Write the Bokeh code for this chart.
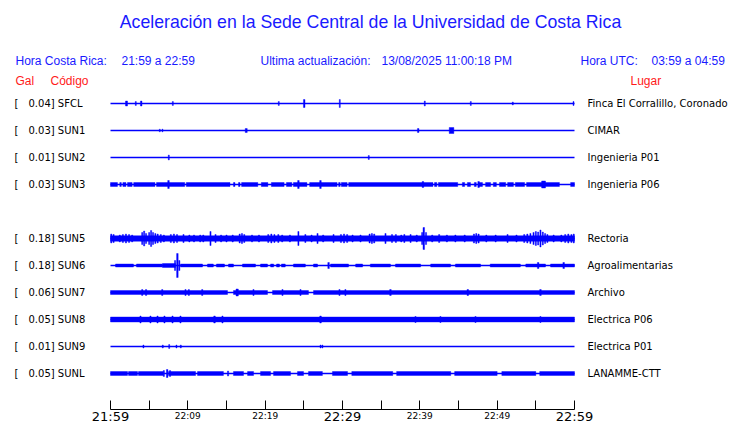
from bokeh.plotting import figure
from bokeh.models import Range1d, LinearAxis, FixedTicker, Label, ColumnDataSource
from bokeh.core.properties import value
from bokeh.embed import file_html
from bokeh.resources import INLINE

# ---------------- data ----------------
title_text = "Aceleración en la Sede Central de la Universidad de Costa Rica"
hora_cr = "21:59 a 22:59"
ultima = "13/08/2025 11:00:18 PM"
hora_utc = "03:59 a 04:59"

codes = ["SFCL", "SUN1", "SUN2", "SUN3", "SUN5", "SUN6", "SUN7", "SUN8", "SUN9", "SUNL"]
gals = ["0.04", "0.03", "0.01", "0.03", "0.18", "0.18", "0.06", "0.05", "0.01", "0.05"]
places = ["Finca El Corralillo, Coronado", "CIMAR", "Ingenieria P01", "Ingenieria P06",
          "Rectoria", "Agroalimentarias", "Archivo", "Electrica P06", "Electrica P01", "LANAMME-CTT"]
slots = [0, 1, 2, 3, 5, 6, 7, 8, 9, 10]

tick_minutes = [0, 5, 10, 15, 20, 25, 30, 35, 40, 45, 50, 55, 60]
big_tick_minutes = [0, 30, 60]
big_tick_labels = ["21:59", "22:29", "22:59"]
small_tick_minutes = [10, 20, 40, 50]
small_tick_labels = ["22:09", "22:19", "22:39", "22:49"]

# amplitudes: relative units, 27 = one row spacing
# bands: (start_min, end_min, half_amplitude); spikes: (minute, half_amplitude, duration_min)
SFCL_bands = []
SFCL_spikes = [(2.07, 2.5, 0.26), (3.27, 2.0, 0.13), (3.97, 2.5, 0.2), (8.06, 2.0, 0.13),
               (21.76, 2.0, 0.13), (25.05, 4.0, 0.2), (29.65, 4.0, 0.13), (40.64, 2.5, 0.13),
               (46.59, 2.0, 0.13), (52.02, 1.5, 0.13), (59.87, 2.0, 0.13)]

SUN1_bands = []
SUN1_spikes = [(6.37, 1.3, 0.13), (6.72, 1.3, 0.13), (17.55, 2.0, 0.26), (39.79, 2.0, 0.2),
               (44.1, 3.0, 0.6)]

SUN2_bands = []
SUN2_spikes = [(7.54, 2.5, 0.13), (33.4, 2.0, 0.13)]

SUN3_bands = [(0.0, 0.9, 2.0), (1.2, 1.4, 2.0), (1.6, 2.0, 2.0), (2.2, 2.8, 2.0), (3.0, 5.75, 2.0),
              (5.95, 9.6, 2.0), (9.8, 15.45, 2.0), (15.9, 16.1, 2.0), (16.55, 16.75, 2.0),
              (16.95, 19.05, 2.0), (19.5, 20.35, 2.0), (20.8, 22.45, 2.0), (22.75, 23.45, 2.0),
              (23.65, 25.4, 2.0), (25.75, 29.3, 2.0), (29.5, 29.7, 2.0), (29.85, 30.6, 2.0),
              (30.8, 41.7, 2.0), (41.9, 42.2, 2.0), (42.4, 44.9, 2.0), (45.5, 45.8, 2.0),
              (46.15, 46.55, 2.0), (47.05, 47.3, 2.0), (47.6, 48.1, 2.0), (48.5, 49.15, 2.0),
              (49.5, 49.9, 2.0), (50.3, 51.1, 2.0), (51.35, 52.1, 2.0), (52.35, 53.55, 2.0),
              (53.8, 58.05, 2.0), (59.5, 60.0, 2.0)]
SUN3_spikes = [(7.5, 4.0, 0.2), (24.3, 4.0, 0.2), (27.15, 4.0, 0.2), (40.4, 3.0, 0.2),
               (47.6, 3.0, 0.2), (56.0, 3.5, 0.5)]

SUN5_bands = [(0.0, 60.0, 2.8)]
SUN5_spikes = [(0.1, 4.5, 0.15), (0.4, 4.0, 0.15), (1.2, 3.5, 0.15), (1.6, 4.0, 0.15),
               (2.0, 4.5, 0.15), (2.4, 4.0, 0.15), (2.8, 3.5, 0.15), (4.1, 6.0, 0.15),
               (4.35, 7.5, 0.15), (4.6, 5.0, 0.15), (5.0, 6.0, 0.15), (5.25, 8.0, 0.15),
               (5.5, 6.0, 0.15), (5.8, 5.0, 0.15), (6.1, 4.5, 0.15), (6.5, 4.0, 0.15),
               (6.9, 3.5, 0.15), (7.8, 4.0, 0.15), (8.2, 4.5, 0.15), (8.6, 4.0, 0.15),
               (9.44, 4.0, 0.15), (10.2, 3.5, 0.15), (10.8, 3.5, 0.15), (11.6, 3.5, 0.15),
               (12.0, 3.5, 0.15), (12.93, 7.0, 0.15), (13.58, 4.0, 0.15), (14.3, 3.5, 0.15),
               (15.0, 3.5, 0.15), (15.8, 3.5, 0.15), (16.7, 4.5, 0.15), (17.0, 5.0, 0.15),
               (17.3, 4.0, 0.15), (18.3, 3.5, 0.15), (19.2, 3.5, 0.15), (20.4, 4.0, 0.15),
               (20.8, 4.5, 0.15), (21.2, 4.0, 0.15), (21.7, 4.0, 0.15), (22.2, 3.5, 0.15),
               (23.2, 3.5, 0.15), (24.3, 7.0, 0.15), (25.2, 4.0, 0.15), (26.0, 3.5, 0.15),
               (26.77, 5.0, 0.15), (27.5, 3.5, 0.15), (28.84, 4.0, 0.15), (29.8, 4.0, 0.15),
               (30.2, 4.5, 0.15), (30.6, 4.0, 0.15), (31.3, 3.5, 0.15), (32.33, 3.5, 0.15),
               (33.5, 4.5, 0.15), (33.8, 5.0, 0.15), (34.1, 4.5, 0.15), (35.56, 5.0, 0.15),
               (36.4, 4.0, 0.15), (36.9, 4.0, 0.15), (37.6, 3.5, 0.15), (38.0, 4.0, 0.15),
               (38.8, 4.0, 0.15), (39.6, 3.5, 0.15), (40.3, 6.0, 0.15), (40.51, 11.0, 0.2),
               (40.8, 6.0, 0.15), (41.6, 3.5, 0.15), (42.5, 4.0, 0.15), (43.5, 3.5, 0.15),
               (44.6, 3.5, 0.15), (45.8, 3.5, 0.15), (47.0, 4.5, 0.15), (47.3, 5.0, 0.15),
               (47.6, 4.5, 0.15), (48.6, 3.5, 0.15), (49.8, 3.5, 0.15), (51.34, 4.0, 0.15),
               (52.5, 3.5, 0.15), (53.5, 4.0, 0.15), (53.9, 4.5, 0.15), (54.3, 5.0, 0.15),
               (54.7, 6.0, 0.15), (55.0, 7.0, 0.15), (55.3, 6.5, 0.15), (55.6, 8.5, 0.15),
               (55.9, 6.5, 0.15), (56.2, 5.0, 0.15), (56.5, 4.0, 0.15), (57.3, 3.5, 0.15),
               (58.3, 3.5, 0.15), (58.8, 4.0, 0.15), (59.2, 4.5, 0.15), (59.6, 4.0, 0.15),
               (59.9, 4.5, 0.15)]

SUN6_bands = [(0.65, 2.97, 1.5), (3.36, 6.72, 1.5), (6.72, 8.4, 2.0), (9.05, 11.9, 1.5),
              (12.54, 13.3, 1.5), (13.7, 14.74, 1.5), (15.26, 15.9, 1.5), (17.07, 18.75, 1.5),
              (19.4, 20.3, 1.5), (20.7, 21.1, 1.5), (21.47, 21.85, 1.5), (22.1, 22.6, 1.5),
              (23.66, 25.2, 1.5), (26.25, 26.77, 1.5), (28.45, 30.78, 1.5), (31.7, 32.6, 1.5),
              (33.6, 36.2, 1.5), (36.85, 40.1, 1.5), (41.4, 43.97, 1.5), (44.6, 47.85, 1.5),
              (49.1, 53.0, 1.5), (53.7, 56.25, 1.5), (56.9, 60.0, 1.5)]
SUN6_spikes = [(8.65, 12.0, 0.2), (8.35, 5.0, 0.15), (8.9, 5.0, 0.15), (28.2, 3.0, 0.2),
               (55.3, 3.0, 0.2), (58.6, 3.0, 0.2)]

SUN7_bands = [(0.0, 15.13, 2.0), (15.9, 20.3, 2.0), (20.95, 25.6, 2.0), (26.25, 60.0, 2.0)]
SUN7_spikes = [(4.10, 3.0, 0.15), (4.6, 3.0, 0.15), (6.69, 3.0, 0.15), (9.7, 3.0, 0.15),
               (10.13, 3.0, 0.15), (11.86, 3.0, 0.15), (16.38, 3.5, 0.3), (18.49, 3.0, 0.15),
               (22.24, 3.0, 0.15), (24.57, 3.0, 0.15), (29.61, 3.0, 0.15), (30.38, 3.0, 0.15),
               (36.2, 3.0, 0.2), (46.2, 3.0, 0.2), (55.6, 3.0, 0.2)]

SUN8_bands = [(0.0, 60.0, 2.5)]
SUN8_spikes = [(3.88, 3.5, 0.15), (5.17, 3.5, 0.15), (6.08, 3.5, 0.15), (6.98, 3.5, 0.15),
               (8.02, 3.5, 0.15), (9.05, 3.5, 0.15), (13.45, 3.5, 0.2), (14.48, 3.5, 0.15),
               (27.16, 3.5, 0.2), (39.44, 3.0, 0.15), (42.67, 3.0, 0.15), (47.2, 3.0, 0.15),
               (55.6, 3.0, 0.15)]

SUN9_bands = []
SUN9_spikes = [(4.26, 1.5, 0.13), (6.76, 1.5, 0.13), (7.59, 2.0, 0.13), (8.53, 1.5, 0.13),
               (9.09, 1.5, 0.13), (27.16, 1.5, 0.13), (27.4, 1.5, 0.13)]

SUNL_bands = [(0.0, 2.2, 2.0), (2.33, 3.49, 2.0), (3.62, 6.85, 2.0), (7.5, 11.0, 2.0),
              (11.25, 14.6, 2.0), (15.9, 17.2, 2.0), (17.72, 18.5, 2.0), (19.4, 20.7, 2.0),
              (21.08, 23.28, 2.0), (24.18, 24.96, 2.0), (25.6, 27.4, 2.0), (28.7, 30.65, 2.0),
              (31.2, 36.5, 2.0), (37.0, 44.0, 2.0), (44.5, 50.0, 2.0), (50.6, 55.0, 2.0),
              (55.5, 60.0, 2.0)]
SUNL_spikes = [(7.33, 4.0, 0.2), (6.9, 3.0, 0.15), (7.7, 3.0, 0.15), (15.2, 2.5, 0.15)]

station_bands = [SFCL_bands, SUN1_bands, SUN2_bands, SUN3_bands, SUN5_bands,
                 SUN6_bands, SUN7_bands, SUN8_bands, SUN9_bands, SUNL_bands]
station_spikes = [SFCL_spikes, SUN1_spikes, SUN2_spikes, SUN3_spikes, SUN5_spikes,
                  SUN6_spikes, SUN7_spikes, SUN8_spikes, SUN9_spikes, SUNL_spikes]
ROW_UNITS = 27.0

# ---------------- layout ----------------
W, H = 740, 423
PX_PER_MIN = 464.0 / 60.0
X0 = 110.0          # canvas x of minute 0


def mx(px):
    return (px - X0) / PX_PER_MIN


def ky(py):
    return (py - 103.0) / 27.0


p = figure(width=W, height=H, output_backend="svg", toolbar_location=None,
           x_range=Range1d(mx(0), mx(W)), y_range=Range1d(ky(H), ky(0)),
           min_border_left=0, min_border_right=0, min_border_top=0, min_border_bottom=0,
           x_axis_type=None, y_axis_type=None)
p.outline_line_color = None
p.xgrid.visible = False
p.ygrid.visible = False
p.background_fill_color = "white"
p.border_fill_color = "white"

# traces
base_src = ColumnDataSource(dict(x0=[0.0] * len(slots), x1=[60.0] * len(slots),
                                 y=[float(s) for s in slots]))
p.segment(x0="x0", y0="y", x1="x1", y1="y", source=base_src, line_color="blue", line_width=1.3)

L, R, B, T = [], [], [], []
for s, bands, spikes in zip(slots, station_bands, station_spikes):
    for a, b, amp in bands:
        L.append(a); R.append(b)
        B.append(s - amp / ROW_UNITS); T.append(s + amp / ROW_UNITS)
    for t, amp, d in spikes:
        L.append(t - d / 2); R.append(t + d / 2)
        B.append(s - amp / ROW_UNITS); T.append(s + amp / ROW_UNITS)
quad_src = ColumnDataSource(dict(left=L, right=R, bottom=B, top=T))
p.quad(left="left", right="right", bottom="bottom", top="top", source=quad_src,
       fill_color="blue", line_color="blue", line_width=0.4)

# time axis, drawn at a fixed place inside the frame
ax = LinearAxis(ticker=FixedTicker(ticks=tick_minutes), bounds=(0, 60), fixed_location=ky(409))
ax.major_tick_in = 9
ax.major_tick_out = 0
ax.minor_tick_in = 0
ax.minor_tick_out = 0
ax.axis_line_color = "black"
ax.axis_line_width = 1
ax.major_tick_line_color = "black"
ax.major_label_text_font_size = "1px"
ax.major_label_text_alpha = 0
ax.major_label_standoff = 0
ax.major_label_overrides = {m: "" for m in tick_minutes}
p.add_layout(ax, "below")

big_src = ColumnDataSource(dict(x=big_tick_minutes, y=[ky(415.5)] * 3, t=big_tick_labels))
p.text(x="x", y="y", text="t", source=big_src, text_font=value("DejaVu Sans"),
       text_font_size="13px", text_color="black", text_align="center", text_baseline="middle")
small_src = ColumnDataSource(dict(x=small_tick_minutes, y=[ky(415)] * 4, t=small_tick_labels))
p.text(x="x", y="y", text="t", source=small_src, text_font=value("DejaVu Sans"),
       text_font_size="9px", text_color="black", text_align="center", text_baseline="middle")

# texts
BLUE_T = "#1a1aff"
RED_T = "#ff1a1a"
p.add_layout(Label(x=mx(370), y=ky(21), text=title_text, text_font="Liberation Sans",
                   text_font_size="17.7px", text_color=BLUE_T, text_align="center",
                   text_baseline="middle"))
for px_, txt in [(15, "Hora Costa Rica:"), (121, hora_cr), (260, "Ultima actualización:"),
                 (381, ultima), (580, "Hora UTC:"), (651, hora_utc)]:
    p.add_layout(Label(x=mx(px_), y=ky(60), text=txt, text_font="Liberation Sans",
                       text_font_size="12px", text_color=BLUE_T, text_align="left",
                       text_baseline="middle"))
for px_, txt in [(15, "Gal"), (50, "Código"), (630, "Lugar")]:
    p.add_layout(Label(x=mx(px_), y=ky(80), text=txt, text_font="Liberation Sans",
                       text_font_size="12px", text_color=RED_T, text_align="left",
                       text_baseline="middle"))

for s, g, c, pl in zip(slots, gals, codes, places):
    p.add_layout(Label(x=mx(14), y=s, text="[", text_font="DejaVu Sans", text_font_size="10px",
                       text_color="black", text_baseline="middle"))
    p.add_layout(Label(x=mx(28), y=s, text=f"{g}] {c}", text_font="DejaVu Sans",
                       text_font_size="10px", text_color="black", text_baseline="middle"))
    p.add_layout(Label(x=mx(587), y=s, text=pl, text_font="DejaVu Sans", text_font_size="10px",
                       text_color="black", text_baseline="middle"))

open("out.html", "w").write(file_html(p, INLINE))
